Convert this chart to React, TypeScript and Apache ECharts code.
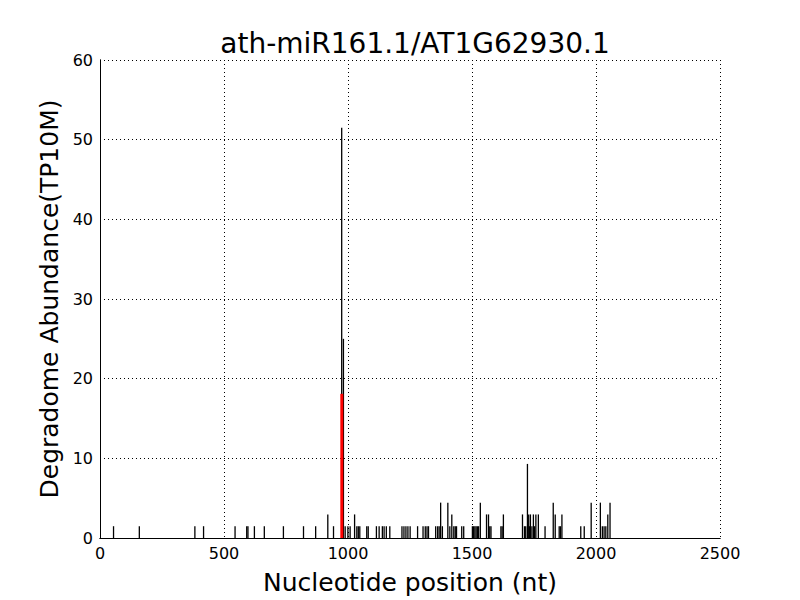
import React, { useEffect, useRef } from "react";
import * as echarts from "echarts";

const titleText = "ath-miR161.1/AT1G62930.1";
const xLabel = "Nucleotide position (nt)";
const yLabel = "Degradome Abundance(TP10M)";

// [position (nt), abundance (TP10M)]
const degradomeReads: [number, number][] = [
  [58, 1.48], [162, 1.48], [386, 1.48], [421, 1.48], [548, 1.48], [595, 1.48], [600, 1.48],
  [626, 1.48], [666, 1.48], [743, 1.48], [824, 1.48], [873, 1.48], [922, 2.96], [945, 1.48],
  [978, 51.5], [985, 25.0], [992, 1.48], [1003, 1.48], [1012, 1.48], [1030, 2.96], [1039, 1.48],
  [1045, 1.48], [1051, 1.48], [1079, 1.48], [1085, 1.48], [1118, 1.48], [1129, 1.48], [1142, 1.48],
  [1149, 1.48], [1158, 1.48], [1172, 1.48], [1221, 1.48], [1229, 1.48], [1237, 1.48], [1245, 1.48],
  [1254, 1.48], [1284, 1.48], [1306, 1.48], [1315, 1.48], [1322, 1.48], [1328, 1.48], [1357, 1.48],
  [1365, 1.48], [1371, 1.48], [1377, 4.44], [1384, 1.48], [1406, 4.44], [1414, 1.48], [1422, 2.96],
  [1430, 1.48], [1436, 1.48], [1441, 1.48], [1462, 1.48], [1470, 1.48], [1505, 1.48], [1510, 1.48],
  [1515, 1.48], [1520, 1.48], [1525, 1.48], [1530, 1.48], [1537, 4.44], [1562, 2.96], [1570, 2.96],
  [1575, 1.48], [1580, 1.48], [1620, 1.48], [1625, 1.48], [1630, 2.96], [1707, 2.96], [1715, 1.48],
  [1720, 1.48], [1727, 9.3], [1732, 2.96], [1735, 1.48], [1739, 2.96], [1745, 1.48], [1751, 2.96],
  [1756, 1.48], [1761, 2.96], [1771, 2.96], [1798, 1.48], [1831, 4.44], [1839, 2.96], [1855, 1.48],
  [1860, 1.48], [1866, 2.96], [1942, 1.48], [1956, 1.48], [1984, 4.44], [2021, 4.44], [2029, 1.48],
  [2036, 1.48], [2043, 1.48], [2051, 2.96], [2060, 4.44],
];

// cleavage site highlighted in red
const cleavageSite: [number, number][] = [[975, 18.1]];

const xTicks = { min: 0, max: 2500, interval: 500 };
const yTicks = { min: 0, max: 60, interval: 10 };

const FONT = "DejaVu Sans";

export default function App() {
  const ref = useRef<HTMLDivElement>(null);
  useEffect(() => {
    if (!ref.current) return;
    const chart = echarts.init(ref.current, null, { renderer: "svg" });
    const gridLine = { show: true, lineStyle: { color: "#000", type: [1, 3] as any, width: 1 } };
    const axisLine = { show: true, lineStyle: { color: "#000", width: 1 } };
    const tick = { show: false };
    const plain = (v: number) => String(v);
    chart.setOption({
      animation: false,
      backgroundColor: "#fff",
      title: {
        text: titleText,
        left: 410,
        top: 24,
        textAlign: "center",
        textStyle: { fontFamily: FONT, fontSize: 28, fontWeight: "normal", color: "#000" },
      },
      grid: { left: 100, top: 60, width: 620, height: 480, containLabel: false },
      xAxis: [
        {
          type: "value",
          ...xTicks,
          position: "bottom",
          axisLine,
          axisTick: tick,
          splitLine: gridLine,
          axisLabel: { fontFamily: FONT, fontSize: 16, color: "#000", margin: 7, formatter: plain },
          name: xLabel,
          nameLocation: "middle",
          nameGap: 32,
          nameTextStyle: { fontFamily: FONT, fontSize: 25, color: "#000" },
        },
        {
          type: "value",
          ...xTicks,
          position: "top",
          axisLine,
          axisTick: tick,
          splitLine: { show: false },
          axisLabel: { show: false },
        },
      ],
      yAxis: [
        {
          type: "value",
          ...yTicks,
          position: "left",
          axisLine,
          axisTick: tick,
          splitLine: gridLine,
          axisLabel: { fontFamily: FONT, fontSize: 16, color: "#000", margin: 7, formatter: plain },
          name: yLabel,
          nameLocation: "middle",
          nameGap: 36,
          nameTextStyle: { fontFamily: FONT, fontSize: 25, color: "#000" },
        },
        {
          type: "value",
          ...yTicks,
          position: "right",
          axisLine,
          axisTick: tick,
          splitLine: { show: false },
          axisLabel: { show: false },
        },
      ],
      series: [
        {
          type: "bar",
          data: degradomeReads,
          barWidth: 1.3,
          barGap: "-100%",
          itemStyle: { color: "#000" },
          xAxisIndex: 0,
          yAxisIndex: 0,
          z: 2,
        },
        {
          type: "bar",
          data: cleavageSite,
          barWidth: 3,
          barGap: "-100%",
          itemStyle: { color: "#ff0000" },
          xAxisIndex: 0,
          yAxisIndex: 0,
          z: 3,
        },
      ],
    });
    return () => chart.dispose();
  }, []);
  return (
    <div
      ref={ref}
      style={{ position: "fixed", left: 0, top: 0, width: 800, height: 600, background: "#fff" }}
    />
  );
}
